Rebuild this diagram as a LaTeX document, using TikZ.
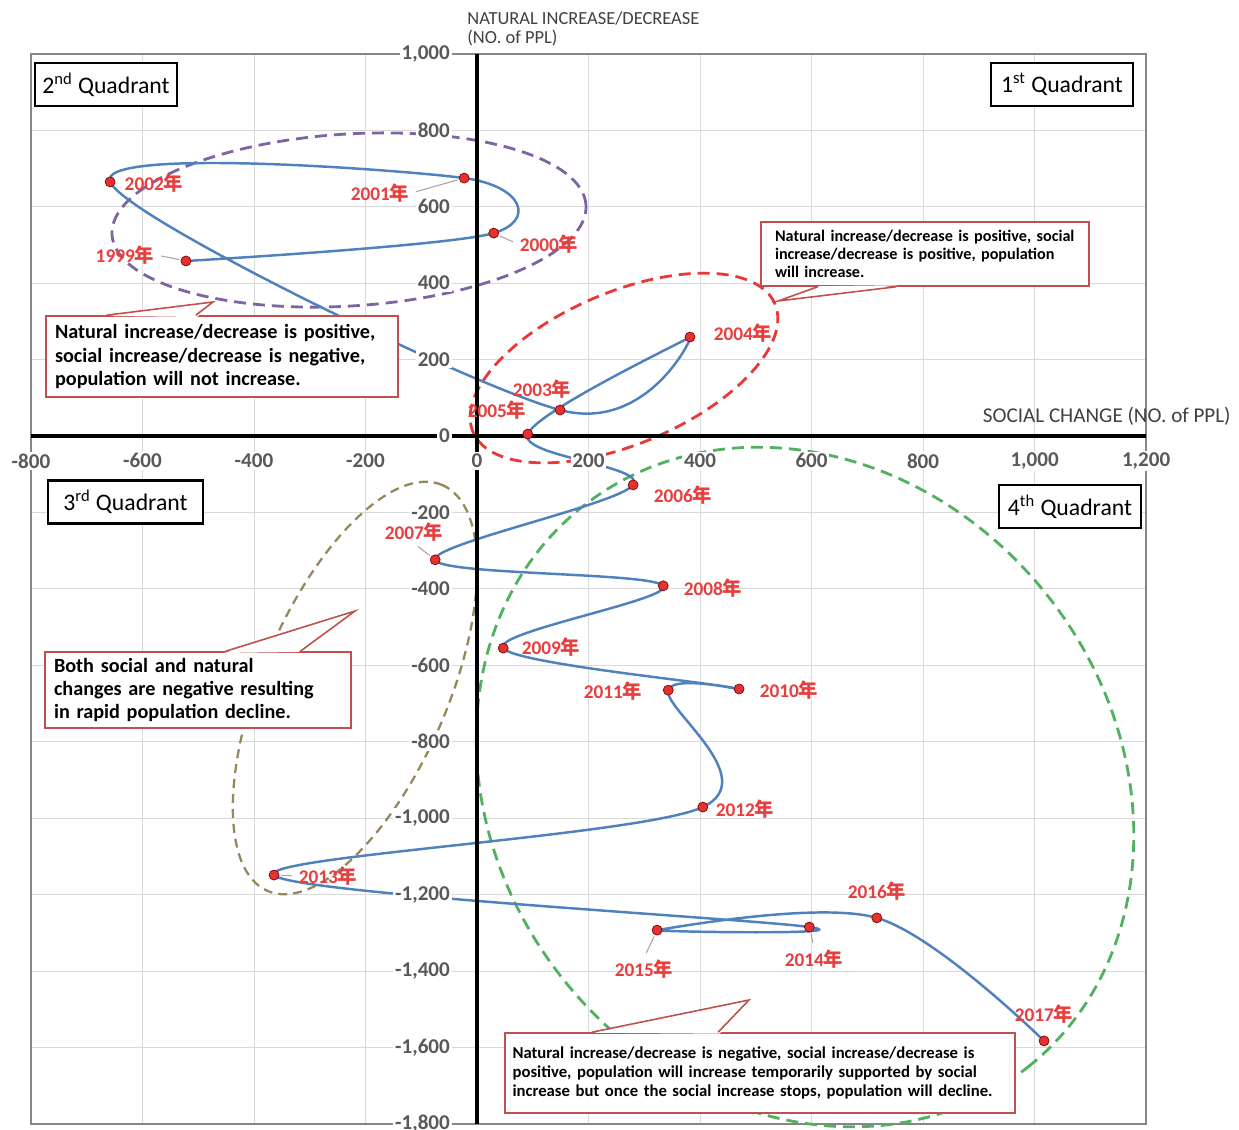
\documentclass[tikz,border=0pt]{standalone}
\usepackage{fontspec}
\setmainfont{Carlito}
\newfontfamily\cjkfont{Noto Sans CJK SC}
\usetikzlibrary{calc}
\definecolor{trendblue}{RGB}{79,129,189}
\definecolor{dotred}{RGB}{226,50,50}
\definecolor{labelred}{RGB}{232,62,62}
\definecolor{notered}{RGB}{192,80,77}
\definecolor{ringpurple}{RGB}{128,100,162}
\definecolor{ringred}{RGB}{234,56,56}
\definecolor{ringgreen}{RGB}{80,178,96}
\definecolor{ringolive}{RGB}{150,136,90}
\definecolor{tickgray}{RGB}{89,89,89}
\definecolor{gridgray}{RGB}{217,217,217}
\definecolor{framegray}{RGB}{134,134,134}
\newcommand{\nian}{{\cjkfont 年}}
\newcommand{\notetail}[5]{%
  \coordinate (#1tA) at ($(#1.#2 west)!#3!(#1.#2 east)$);
  \coordinate (#1tB) at ($(#1.#2 west)!#4!(#1.#2 east)$);
  \fill[white] ($(#1tA)!1.2pt!(#1.center)$) -- (#5) -- ($(#1tB)!1.2pt!(#1.center)$) -- cycle;
  \draw[noteline] (#1tA) -- (#5) -- (#1tB);
}
\tikzset{
  chart/.style={shift={(477,436)}, x=0.01115cm, y=0.007644cm},
  gridline/.style={draw=gridgray, line width=0.5pt},
  plotframe/.style={draw=framegray, line width=1.1pt},
  axisline/.style={draw=black, line width=2pt},
  trend/.style={draw=trendblue, line width=1.4pt},
  yeardot/.style={fill=dotred, draw=red!55!black, line width=0.4pt},
  ring/.style={dash pattern=on 0.24cm off 0.14cm, line width=1.6pt},
  ytick/.style={anchor=east, fill=white, inner sep=1pt, text=tickgray,
    font=\fontsize{12}{14}\selectfont\bfseries},
  xtick/.style={fill=white, inner sep=1pt, text=tickgray,
    font=\fontsize{12}{14}\selectfont\bfseries},
  yrlabel/.style={text=labelred, inner sep=1pt,
    font=\fontsize{11}{13}\selectfont\bfseries},
  leader/.style={draw=black!35, line width=0.6pt, shorten <=0.1cm, shorten >=0.14cm},
  quad/.style={draw, line width=1.2pt, fill=white, minimum width=2.84cm,
    minimum height=0.86cm, inner sep=0pt, font=\fontsize{13.5}{16}\selectfont},
  note/.style={draw=notered, line width=0.9pt, fill=white, align=left,
    inner xsep=0.18cm, inner ysep=0pt},
  noteline/.style={draw=notered, line width=0.9pt},
  axtitle/.style={text=black!75, inner sep=0pt}
}

\begin{document}
\begin{tikzpicture}[x=0.02cm, y=-0.02cm]
  \useasboundingbox (0,0) rectangle (1239,1129);
  \fill[white] (0,0) rectangle (1239,1129);

  \begin{scope}[chart]
    \foreach \gx in {-800,-600,...,1200}
      \draw[gridline] (\gx,-1800) -- (\gx,1000);
    \foreach \gy in {-1800,-1600,...,1000}
      \draw[gridline] (-800,\gy) -- (1200,\gy);
    \draw[plotframe] (-800,-1800) rectangle (1200,1000);
  \end{scope}

  \draw[ring, draw=ringpurple, shift={(349,220)}, rotate=3.6] (0,0) ellipse [x radius=4.75cm, y radius=1.72cm];
  \draw[ring, draw=ringred, shift={(624,368)}, rotate=23] (0,0) ellipse [x radius=3.28cm, y radius=1.52cm];
  \draw[ring, draw=ringolive, line width=1.3pt, dash pattern=on 0.18cm off 0.12cm, shift={(355,688)}, rotate=66.7] (0,0) ellipse [x radius=4.42cm, y radius=1.86cm];
  \draw[ring, draw=ringgreen, shift={(805,787)}, rotate=-51.5] (0,0) ellipse [x radius=7.16cm, y radius=6.18cm];

  \begin{scope}[chart]
    \foreach \yr/\sx/\sy in {1999/-522/458, 2000/30/531, 2001/-23/675, 2002/-658/665,
        2003/149/68, 2004/382/259, 2005/91/5, 2006/280/-128, 2007/-75/-324,
        2008/334/-392, 2009/47/-555, 2010/470/-662, 2011/343/-665, 2012/405/-971,
        2013/-364/-1149, 2014/596/-1285, 2015/323/-1293, 2016/717/-1261, 2017/1017/-1583}
      \coordinate (p\yr) at (\sx,\sy);

    \draw[trend] plot[smooth, tension=0.55] coordinates {(p1999) (p2000) (p2001) (p2002)
      (p2003) (p2004) (p2005) (p2006) (p2007) (p2008) (p2009) (p2010) (p2011)
      (p2012) (p2013) (p2014) (p2015) (p2016) (p2017)};

    \draw[axisline] (-800,0) -- (1200,0);
    \draw[axisline] (0,-1800) -- (0,1000);

    \foreach \yr in {1999,...,2017}
      \draw[yeardot] (p\yr) circle (0.1cm);

    \foreach \gy/\gt in {1000/{1,000}, 800/800, 600/600, 400/400, 200/200, 0/0,
        -200/-200, -400/-400, -600/-600, -800/-800, -1000/{-1,000}, -1200/{-1,200},
        -1400/{-1,400}, -1600/{-1,600}, -1800/{-1,800}}
      \node[ytick] (yt\gy) at (-45,\gy) {\gt};
    \foreach \gx/\gt in {-800/-800, -600/-600, -400/-400, -200/-200, 0/0, 200/200,
        400/400, 600/600, 800/800, 1000/{1,000}, 1200/{1,200}}
      \node[xtick] (xt\gx) at (\gx,-65) {\gt};
  \end{scope}

  \foreach \yr/\lx/\ly in {1999/125/255, 2000/549/244, 2001/380/193, 2002/154/183,
      2003/542/389, 2004/743/333, 2005/497/410, 2006/683/495, 2007/414/532,
      2008/713/588, 2009/551/647, 2010/789/690, 2011/613/691, 2012/745/809,
      2013/328/876, 2014/814/959, 2015/644/969, 2016/877/891, 2017/1044/1014}
    \node[yrlabel] (l\yr) at (\lx,\ly) {\yr\nian};
  \foreach \yr/\an in {1999/east, 2000/west, 2001/east, 2007/south, 2013/west,
      2014/north, 2015/north}
    \draw[leader] (l\yr.\an) -- (p\yr);

  \node[quad] (q2) at (106,84.5) {2\textsuperscript{nd} Quadrant};
  \node[quad] (q1) at (1062,84.5) {1\textsuperscript{st} Quadrant};
  \node[quad, minimum width=3.1cm] (q3) at (125.5,502) {3\textsuperscript{rd} Quadrant};
  \node[quad] (q4) at (1070,506.5) {4\textsuperscript{th} Quadrant};

  \node[note, font=\fontsize{11.5}{13.3}\selectfont\bfseries, minimum width=7.04cm,
    minimum height=1.62cm, text width=6.68cm] (noteNW) at (222,356.5)
    {Natural increase/decrease is positive,\\social increase/decrease is negative,\\population will not increase.};
  \coordinate (tipNW) at (213,302);
  \notetail{noteNW}{north}{0.173}{0.426}{tipNW}

  \node[note, font=\fontsize{9.2}{10.4}\selectfont\bfseries, minimum width=6.56cm,
    minimum height=1.28cm, text width=6.0cm, inner xsep=0.28cm] (noteNE) at (925,254)
    {Natural increase/decrease is positive, social\\increase/decrease is positive, population\\will increase.};
  \coordinate (tipNE) at (778,301);
  \notetail{noteNE}{south}{0.174}{0.412}{tipNE}

  \node[note, font=\fontsize{11.5}{13.3}\selectfont\bfseries, minimum width=6.12cm,
    minimum height=1.52cm, text width=5.76cm] (noteSW) at (198,690)
    {Both social and natural\\changes are negative resulting\\in rapid population decline.};
  \coordinate (tipSW) at (355,611);
  \notetail{noteSW}{north}{0.59}{0.833}{tipSW}

  \node[note, font=\fontsize{9.5}{11}\selectfont\bfseries, minimum width=10.2cm,
    minimum height=1.6cm, text width=9.9cm, inner xsep=0.15cm] (noteSE) at (760,1073)
    {Natural increase/decrease is negative, social increase/decrease is\\positive, population will increase temporarily supported by social\\increase but once the social increase stops, population will decline.};
  \coordinate (tipSE) at (749,1000);
  \notetail{noteSE}{north}{0.171}{0.418}{tipSE}

  \node[axtitle, anchor=north west, align=left, font=\fontsize{10.5}{10.8}\selectfont]
    (ytitle) at (467,11) {NATURAL INCREASE/DECREASE\\(NO. of PPL)};
  \node[axtitle, anchor=base east, font=\fontsize{12}{14}\selectfont]
    (xtitle) at (1231,422) {SOCIAL CHANGE (NO. of PPL)};
\end{tikzpicture}
\end{document}
